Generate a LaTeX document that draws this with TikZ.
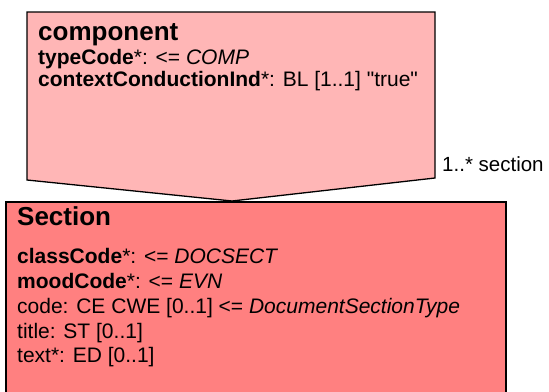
\documentclass[tikz,border=0pt]{standalone}
\usepackage{fontspec}
\setmainfont{Liberation Sans}
\definecolor{compfill}{RGB}{255,182,182}
\definecolor{secfill}{RGB}{255,128,128}
\begin{document}
\begin{tikzpicture}[x=1pt,y=-1pt,
  shapeline/.style={draw=black,line width=1.3pt,line join=miter},
  ttl/.style={anchor=base west,inner sep=0pt,font=\fontsize{26}{30}\selectfont\bfseries},
  attr/.style={anchor=base west,inner sep=0pt,font=\fontsize{21}{24}\selectfont},
  lbl/.style={anchor=base west,inner sep=0pt,font=\fontsize{20.5}{24}\selectfont}]
\useasboundingbox (0,0) rectangle (549,391);
\clip (0,0) rectangle (549,391);
% Section box
\coordinate (s1) at (6,202);
\coordinate (s2) at (506,202);
\fill[secfill] (6,202) rectangle (506,400);
\draw[shapeline] (6,400) -- (s1) -- (s2) -- (506,400);
% component shape
\coordinate (c1) at (27,12);
\coordinate (c2) at (435,12);
\coordinate (c3) at (435,178);
\coordinate (tip) at (232,201);
\coordinate (c5) at (27,180);
\filldraw[shapeline,fill=compfill] (c1) -- (c2) -- (c3) -- (tip) -- (c5) -- cycle;
% component texts
\node[ttl] (ctitle) at (38,40) {component};
\node[attr] (ca1) at (38,64) {\textbf{typeCode}*: <= \textit{COMP}};
\node[attr] (ca2) at (38,86) {\textbf{contextConductionInd}*: BL [1..1] \textquotedbl true\textquotedbl};
% connector label
\node[lbl] (rel) at (442,171) {1..* section};
% section texts
\node[ttl] (stitle) at (17,225) {Section};
\node[attr] (sa1) at (17,263) {\textbf{classCode}*: <= \textit{DOCSECT}};
\node[attr] (sa2) at (17,288) {\textbf{moodCode}*: <= \textit{EVN}};
\node[attr] (sa3) at (17,313) {code: CE CWE [0..1] <= \textit{DocumentSectionType}};
\node[attr] (sa4) at (17,338) {title: ST [0..1]};
\node[attr] (sa5) at (17,362) {text*: ED [0..1]};
\end{tikzpicture}
\end{document}
